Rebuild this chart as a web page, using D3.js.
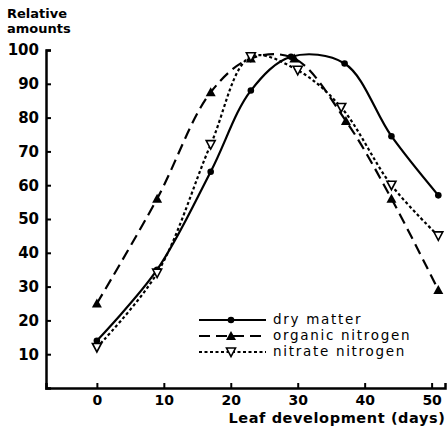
<!DOCTYPE html>
<html>
<head>
<meta charset="utf-8">
<script src="https://cdn.jsdelivr.net/npm/d3@7"></script>
<style>
body { margin: 0; background: #fff; }
text { font-family: "DejaVu Sans", sans-serif; fill: #000; }
</style>
</head>
<body>
<div class="d3"></div>
<script>
// data
var dryDays = [0, 9, 17, 23, 29, 37, 44, 51];
var dryVals = [14, 35, 64, 88, 98, 96, 74.5, 57];
var orgDays = [0, 9, 17, 23, 29.5, 37.2, 44, 51];
var orgVals = [25, 56, 87.5, 97.5, 97.5, 79, 56, 29];
var nitDays = [0, 9, 17, 23, 30, 36.5, 44, 51];
var nitVals = [12, 34, 72, 98, 94, 83, 60, 45];
var xTicks = [0, 10, 20, 30, 40, 50];
var yTicks = [10, 20, 30, 40, 50, 60, 70, 80, 90, 100];
var seriesNames = ["dry matter", "organic nitrogen", "nitrate nitrogen"];

var w = 448, h = 428;
var svg = d3.select(".d3").append("svg").attr("width", w).attr("height", h);

var xScale = d3.scaleLinear().domain([-7.6, 52]).range([46, 445]);
var yScale = d3.scaleLinear().domain([0, 100]).range([388, 50]);

// axes
var xAxis = d3.axisBottom(xScale).tickValues(xTicks).tickSize(-5).tickPadding(8);
var yAxis = d3.axisLeft(yScale).tickValues(yTicks).tickSize(-5).tickPadding(7);

var gx = svg.append("g").attr("transform", "translate(0,388)").call(xAxis);
var gy = svg.append("g").attr("transform", "translate(46,0)").call(yAxis);
[gx, gy].forEach(g => {
	g.select(".domain").attr("stroke", "#000").attr("stroke-width", 2.5);
	g.selectAll(".tick line").attr("stroke", "#000").attr("stroke-width", 2);
	g.selectAll(".tick text").attr("font-size", 15).attr("font-weight", "bold")
		.attr("font-family", "DejaVu Sans").attr("fill", "#000");
});
gx.selectAll(".tick text").attr("font-size", 14).attr("dy", "0.62em");

var line = d3.line()
	.x(d => xScale(d[0]))
	.y(d => yScale(d[1]))
	.curve(d3.curveCatmullRom.alpha(0.5));

var series = [
	{ name: seriesNames[0], pts: d3.zip(dryDays, dryVals), dash: null, mark: "circle" },
	{ name: seriesNames[1], pts: d3.zip(orgDays, orgVals), dash: "11,6", mark: "up" },
	{ name: seriesNames[2], pts: d3.zip(nitDays, nitVals), dash: "3,2.5", mark: "down" }
];

function drawMark(g, type, x, y) {
	if (type == "circle") {
		g.append("circle").attr("cx", x).attr("cy", y).attr("r", 3.3).attr("fill", "#000");
	} else if (type == "up") {
		g.append("path").attr("d", `M${x},${y-5}L${x+5},${y+4}L${x-5},${y+4}Z`).attr("fill", "#000");
	} else {
		g.append("path").attr("d", `M${x-4.5},${y-4}L${x+4.5},${y-4}L${x},${y+4.5}Z`)
			.attr("fill", "#fff").attr("stroke", "#000").attr("stroke-width", 1.6);
	}
}

series.forEach(s => {
	svg.append("path")
		.datum(s.pts)
		.attr("d", line)
		.attr("fill", "none")
		.attr("stroke", "#000")
		.attr("stroke-width", 2.2)
		.attr("stroke-dasharray", s.dash);
	var g = svg.append("g");
	s.pts.forEach(p => drawMark(g, s.mark, xScale(p[0]), yScale(p[1])));
});

// legend
var legend = svg.append("g");
series.forEach((s, i) => {
	var ly = 320 + i * 16;
	legend.append("line").attr("x1", 199).attr("x2", 266).attr("y1", ly).attr("y2", ly)
		.attr("stroke", "#000").attr("stroke-width", 2.2).attr("stroke-dasharray", s.dash);
	drawMark(legend, s.mark, 231, ly);
	legend.append("text").attr("x", 273).attr("y", ly).attr("dy", "0.32em")
		.attr("font-size", 13.5).attr("letter-spacing", 1.7).text(s.name);
});

// titles
svg.append("text").attr("x", 7).attr("y", 18).attr("font-size", 13).attr("font-weight", "bold").text("Relative");
svg.append("text").attr("x", 7).attr("y", 33).attr("font-size", 13).attr("font-weight", "bold").text("amounts");
svg.append("text").attr("x", 337).attr("y", 423).attr("text-anchor", "middle")
	.attr("font-size", 14.5).attr("font-weight", "bold").attr("letter-spacing", 0.6)
	.text("Leaf development (days)");
</script>
</body>
</html>
